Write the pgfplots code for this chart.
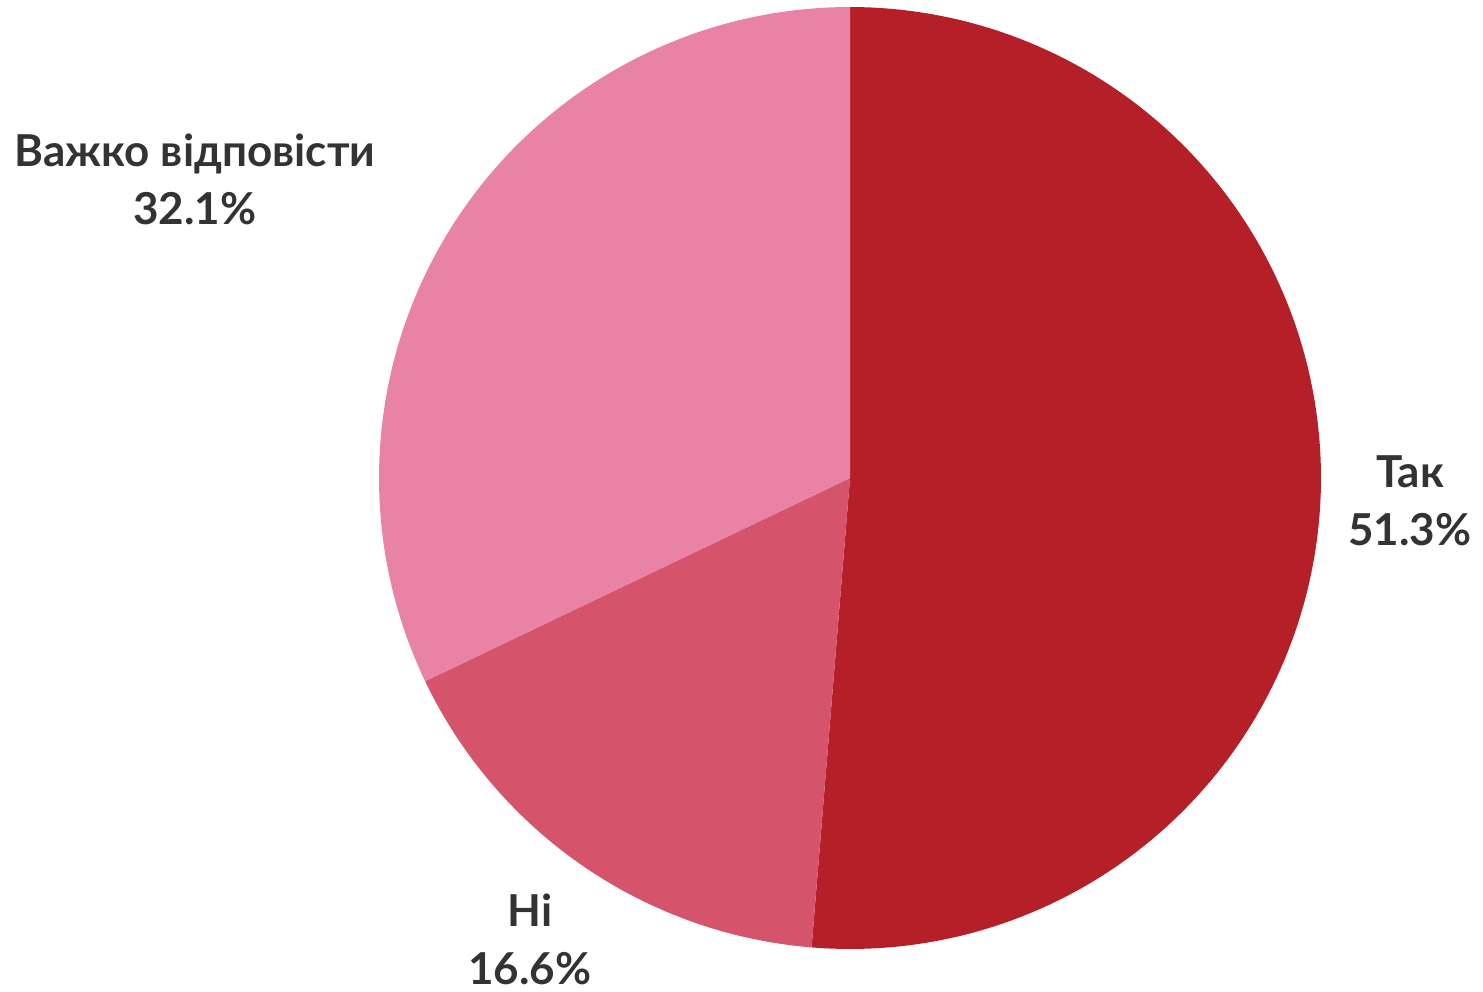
\documentclass[border=0pt]{standalone}
\usepackage{fontspec}
\setmainfont{Lato}
\usepackage{pgfplots}
\pgfplotsset{compat=1.18}
\definecolor{cTak}{RGB}{180,31,40}
\definecolor{cNi}{RGB}{213,84,107}
\definecolor{cVazh}{RGB}{232,131,166}
\definecolor{txt}{RGB}{51,51,51}
% values (percent)
\def\vTak{51.3}
\def\vNi{16.6}
\def\vVazh{32.1}
\pgfmathsetmacro\aA{90}
\pgfmathsetmacro\aB{90-3.6*\vTak}
\pgfmathsetmacro\aC{\aB-3.6*\vNi}
\pgfmathsetmacro\aD{\aC-3.6*\vVazh}
\begin{document}
\begin{tikzpicture}
\begin{axis}[
  width=741.5pt, height=495pt, scale only axis,
  xmin=0, xmax=1483, ymin=0, ymax=990,
  hide axis, clip=false,
]
\path (axis cs:0,0) rectangle (axis cs:1483,990);
\addplot[draw=none, fill=cTak, domain=\aB:\aA, samples=150] ({850+471*cos(x)},{512+471*sin(x)}) -- (axis cs:850,512) -- cycle;
\addplot[draw=none, fill=cNi, domain=\aC:\aB, samples=80] ({850+471*cos(x)},{512+471*sin(x)}) -- (axis cs:850,512) -- cycle;
\addplot[draw=none, fill=cVazh, domain=\aD:\aC, samples=120] ({850+471*cos(x)},{512+471*sin(x)}) -- (axis cs:850,512) -- cycle;
\node[align=center, text=txt, font=\fontsize{22}{29}\selectfont\bfseries] at (axis cs:195,811) {Важко відповісти\\32.1\%};
\node[align=center, text=txt, font=\fontsize{22}{29}\selectfont\bfseries] at (axis cs:1410,489) {Так\\51.3\%};
\node[align=center, text=txt, font=\fontsize{22}{29}\selectfont\bfseries] at (axis cs:530,51) {Ні\\16.6\%};
\end{axis}
\end{tikzpicture}
\end{document}
